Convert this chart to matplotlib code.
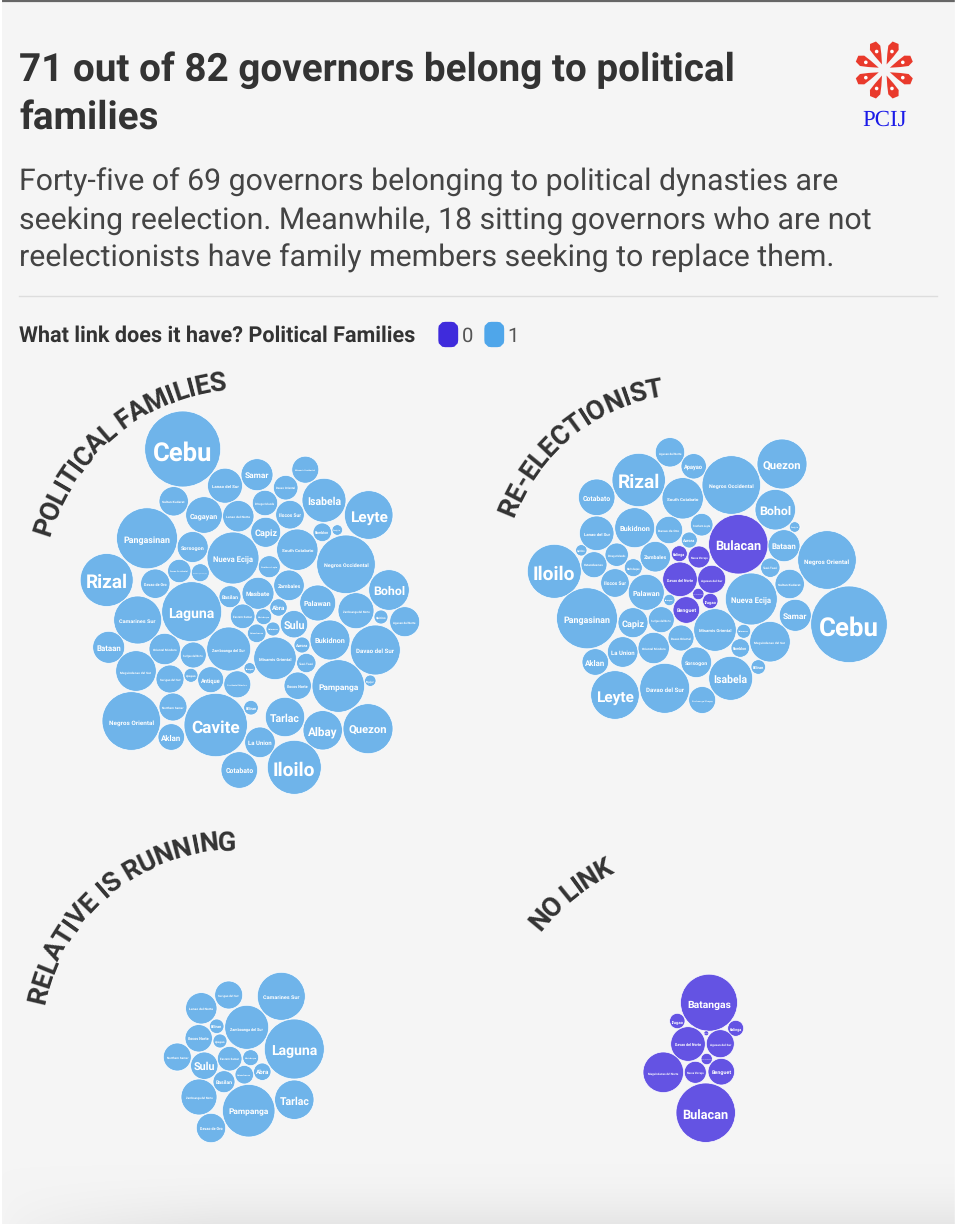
#!/usr/bin/python3
import numpy as np
import matplotlib
matplotlib.use('Agg')
import matplotlib.pyplot as plt
from matplotlib.patches import Circle, Polygon, FancyBboxPatch
from matplotlib.textpath import TextPath
from matplotlib.font_manager import FontProperties

plt.rcParams['text.hinting'] = 'none'
plt.rcParams['text.hinting_factor'] = 8

FONT = 'Roboto'
BG = '#f5f5f5'
BLUE = '#6fb4ea'
PURPLE = '#6453e3'
DARK = '#333333'

title_lines = ['71 out of 82 governors belong to political', 'families']
subtitle_lines = ['Forty-five of 69 governors belonging to political dynasties are',
                  'seeking reelection. Meanwhile, 18 sitting governors who are not',
                  'reelectionists have family members seeking to replace them.']
legend_title = 'What link does it have? Political Families'
legend_labels = ['0', '1']
panel_titles = ['POLITICAL FAMILIES', 'RE-ELECTIONIST', 'RELATIVE IS RUNNING', 'NO LINK']

# provinces with no link to a running relative, they get the second colour
no_link_names = ['Batangas', 'Ifugao', 'Kalinga', 'Davao del Norte', 'Agusan del Sur', 'Batanes', 'Mountain Province',
                 'Maguindanao del Norte', 'Nueva Vizcaya', 'Benguet', 'Bulacan']

political_names = ['Cebu', 'Lanao del Sur', 'Sultan Kudarat', 'Cagayan', 'Lanao del Norte', 'Pangasinan', 'Sorsogon',
                   'Nueva Ecija', 'Rizal', 'Davao de Oro', 'Davao Occidental', 'Zamboanga Sibugay', 'Basilan', 'Laguna',
                   'Camarines Sur', 'Bataan', 'Oriental Mindoro', 'Surigao del Norte', 'Zamboanga del Sur',
                   'Maguindanao del Sur', 'Surigao del Sur', 'Apayao', 'Antique', 'Occidental Mindoro', 'Sarangani',
                   'Biliran', 'Negros Oriental', 'Northern Samar', 'Aklan', 'Cavite', 'Cotabato', 'La Union', 'Tarlac',
                   'Albay', 'Quezon', 'Iloilo', 'Pampanga', 'Davao del Sur', 'Bukidnon', 'Misamis Oriental',
                   'Ilocos Norte', 'Tawi-Tawi', 'Aurora', 'Sulu', 'Palawan', 'Abra', 'Masbate', 'Zambales',
                   'Eastern Samar', 'Marinduque', 'Catanduanes', 'Guimaras', 'Bohol', 'Zamboanga del Norte', 'Quirino',
                   'Agusan del Norte', 'Siquijor', 'Negros Occidental', 'South Cotabato', 'Romblon', 'Camiguin', 'Leyte',
                   'Isabela', 'Capiz', 'Ilocos Sur', 'Samar', 'Davao Oriental', 'Dinagat Islands', 'Misamis Occidental',
                   'Southern Leyte']
political_x = [182.7, 225, 173.7, 204, 238.3, 147, 192.7, 233, 106.7, 155.3, 179.3, 200.3, 230, 191.7, 137.7, 108.7,
               164.7, 193.3, 228.7, 136, 170, 191, 210.7, 237.3, 249.7, 251, 131.3, 173, 171.3, 215.7, 239.3, 260, 285,
               322.7, 368, 294.3, 338.3, 375.3, 330, 275, 297.7, 306.3, 302, 294, 317.7, 278.5, 258, 289, 242.7, 263.7,
               256.7, 273, 389, 356, 381, 404.7, 370.3, 346, 297.3, 322.3, 337.3, 368.7, 324, 265.7, 290, 257, 285.7,
               265, 305.3, 269.3]
political_y = [449, 485.7, 501.3, 515, 516.2, 538.3, 547, 558, 580, 583.7, 571, 572.7, 596.7, 611.7, 620, 647.3, 649,
               655, 649, 671, 679, 675.3, 679.7, 684.3, 668.3, 707.7, 721, 707, 737, 725, 770, 742.3, 717, 730.3, 728.7,
               767.3, 686, 650, 640, 658.3, 685.7, 663, 645, 624.2, 603, 607.5, 593.3, 585.3, 616.3, 616.7, 633.3, 629,
               590, 610.7, 617, 621.7, 680.7, 564.3, 549.7, 532.3, 530, 515, 500.3, 532.3, 514.7, 474.7, 487.7, 503,
               469.7, 566.7]
political_r = [38, 17.5, 14.7, 18.3, 15.7, 30.5, 15.5, 26, 26.5, 14.7, 11.7, 9, 11, 30, 24, 16, 15.7, 13, 22, 20.3, 14,
               7, 13, 13.5, 5.7, 7.3, 29.3, 14, 13.3, 31.7, 18.3, 15.3, 19.7, 19.7, 25, 27, 26.3, 25, 20, 21.3, 13.7, 9.7,
               8, 13.7, 18, 8.7, 16, 15.3, 12.3, 8, 9.3, 7, 20.3, 18, 7, 15, 5.7, 29.3, 20.7, 9.3, 5.3, 24.3, 22, 15,
               14.3, 16, 12.3, 12.7, 13.5, 11]

reelect_names = ['Agusan del Norte', 'Apayao', 'Rizal', 'Cotabato', 'South Cotabato', 'Lanao del Sur', 'Bukidnon',
                 'Davao de Oro', 'Southern Leyte', 'Aurora', 'Zambales', 'Quirino', 'Iloilo', 'Catanduanes',
                 'Dinagat Islands', 'Marinduque', 'Ilocos Sur', 'Palawan', 'Sarangani', 'Pangasinan', 'Capiz',
                 'Surigao del Norte', 'Davao Oriental', 'La Union', 'Oriental Mindoro', 'Aklan', 'Sorsogon', 'Leyte',
                 'Davao del Sur', 'Zamboanga Sibugay', 'Kalinga', 'Nueva Vizcaya', 'Davao del Norte', 'Benguet',
                 'Mountain Province', 'Agusan del Sur', 'Ifugao', 'Bulacan', 'Negros Occidental', 'Quezon', 'Bohol',
                 'Camiguin', 'Bataan', 'Negros Oriental', 'Tawi-Tawi', 'Sultan Kudarat', 'Nueva Ecija', 'Samar', 'Cebu',
                 'Misamis Oriental', 'Guimaras', 'Maguindanao del Sur', 'Romblon', 'Biliran', 'Isabela']
reelect_x = [670, 693.7, 638.7, 596.7, 682.7, 596.7, 634.7, 669, 701.7, 689.3, 655.3, 581.3, 554.3, 594, 616.7, 633.3,
             615, 646.3, 669.3, 587, 633, 661.3, 681, 622.7, 653.7, 595.3, 696.3, 615, 664.7, 702.2, 679.3, 699, 680,
             686.3, 698.3, 711.7, 710.3, 738.3, 731.3, 782, 775.3, 794.7, 784, 827, 770.3, 789.7, 751.3, 795.3, 849, 715,
             743.7, 770, 740.3, 758.3, 730.7]
reelect_y = [452.3, 466.3, 480, 497.3, 498.3, 533.3, 527.7, 530, 524.7, 540, 556.7, 550.3, 571.3, 564.7, 554.7, 567.7,
             583, 592.3, 600, 618.3, 622.7, 619.7, 638, 652, 648, 662, 662.3, 695, 688.3, 700, 553.7, 557, 579.3, 610,
             594, 579.3, 601, 544.3, 485, 464, 509.7, 527, 545.7, 560, 567.7, 584, 599, 615.3, 624.3, 630, 631.3, 641.7,
             648, 667, 678.3]
reelect_r = [14.7, 12.7, 26.7, 18.3, 20.7, 17.3, 20, 13.7, 11.3, 8, 15.3, 5.7, 27, 13, 11.7, 9, 14.3, 18, 5.7, 30.5, 15,
             13, 13, 15.3, 15.7, 13.3, 15.3, 24.3, 25, 13.5, 8, 11, 17.3, 13.3, 5.7, 14, 7.7, 29.7, 29.3, 25, 20.3, 5.3,
             16, 29.3, 9.7, 14.7, 26, 16, 38.3, 21.3, 7, 20.3, 9.3, 7.3, 22]

relative_names = ['Camarines Sur', 'Surigao del Sur', 'Lanao del Norte', 'Zamboanga del Sur', 'Biliran', 'Ilocos Norte',
                  'Apayao', 'Laguna', 'Northern Samar', 'Sulu', 'Eastern Samar', 'Marinduque', 'Abra', 'Catanduanes',
                  'Basilan', 'Tarlac', 'Zamboanga del Norte', 'Pampanga', 'Davao de Oro']
relative_x = [281.3, 228.7, 201.3, 246.7, 216.7, 198.7, 220, 294.3, 177.3, 204.3, 229.7, 250.7, 262.3, 244.3, 224, 294.3,
              199, 248.7, 211]
relative_y = [996.3, 995, 1008.3, 1027.3, 1026.3, 1038.3, 1041, 1049, 1057, 1065.7, 1058.7, 1057.7, 1071.7, 1074.7,
              1081.7, 1099.7, 1097, 1110.7, 1128]
relative_r = [24, 14, 15.7, 22, 7.3, 13.7, 7, 30, 14, 13.7, 12.3, 8, 8.7, 9.3, 11, 19.7, 18, 26.3, 14.7]

nolink_names = ['Batangas', 'Ifugao', 'Kalinga', 'Davao del Norte', 'Agusan del Sur', 'Batanes', 'Mountain Province',
                'Maguindanao del Norte', 'Nueva Vizcaya', 'Benguet', 'Bulacan']
nolink_x = [709, 677.3, 735.7, 688, 720.3, 706.3, 706.7, 663.3, 695.3, 721.3, 705.7]
nolink_y = [1002.7, 1021, 1028.3, 1044, 1043.7, 1033.3, 1059, 1072.3, 1072.3, 1071.7, 1112.7]
nolink_r = [28.5, 7.7, 8, 17.3, 14, 2.5, 5.7, 20.3, 11, 13.3, 29.7]

LABEL_FP = FontProperties(family=FONT, weight='bold')
CURVE_FP = FontProperties(family=FONT, weight='bold')


def draw_bubbles(ax, names, xs, ys, rs):
    for name, x, y, r in zip(names, xs, ys, rs):
        color = PURPLE if name in no_link_names else BLUE
        ax.add_patch(Circle((x, y), r, fc=color, ec='#ffffff', lw=0.5, zorder=3))
        # label is always about 1.5 radius wide, like the original
        unit = TextPath((0, 0), name, size=1, prop=LABEL_FP).get_extents().width
        size_px = 1.5 * r / unit
        ax.text(x, y + 0.04 * r, name, color='white', family=FONT, weight='bold', fontsize=size_px * 0.72,
                ha='center', va='center_baseline', zorder=4)


# letters one by one along the circle through three baseline points
def curved_text(ax, text, p0, p1, p2, size_px):
    (ax0, ay0), (bx, by), (cx0, cy0) = p0, p1, p2
    d = 2 * (ax0 * (by - cy0) + bx * (cy0 - ay0) + cx0 * (ay0 - by))
    ux = ((ax0**2 + ay0**2) * (by - cy0) + (bx**2 + by**2) * (cy0 - ay0) + (cx0**2 + cy0**2) * (ay0 - by)) / d
    uy = ((ax0**2 + ay0**2) * (cx0 - bx) + (bx**2 + by**2) * (ax0 - cx0) + (cx0**2 + cy0**2) * (bx - ax0)) / d
    radius = np.hypot(ax0 - ux, ay0 - uy)
    a_start = np.arctan2(ay0 - uy, ax0 - ux)
    a_end = np.arctan2(cy0 - uy, cx0 - ux)
    if a_end < a_start:
        a_end += 2 * np.pi
    # advance of each letter from the text path prefix widths
    prefix = [TextPath((0, 0), text[:i] + '|', size=size_px, prop=CURVE_FP).get_extents().x1 for i in range(len(text) + 1)]
    total = prefix[-1] - prefix[0]
    for i, ch in enumerate(text):
        mid = (prefix[i] + prefix[i + 1]) / 2 - prefix[0]
        ang = a_start + (a_end - a_start) * mid / total
        x = ux + radius * np.cos(ang)
        y = uy + radius * np.sin(ang)
        rot = -np.degrees(ang) - 90 + 180 + 180
        ax.text(x, y, ch, color=DARK, family=FONT, weight='bold', fontsize=size_px * 0.72, rotation=rot % 360,
                rotation_mode='anchor', ha='center', va='baseline', zorder=5)


def draw_logo(ax, cx, cy):
    nib = np.array([[6, 0], [16, -3.4], [24, -5.6], [29.5, -3.2], [29.5, 3.2], [24, 5.6], [16, 3.4]])
    for k in range(8):
        ang = np.radians(22.5 + 45 * k)
        rot = np.array([[np.cos(ang), -np.sin(ang)], [np.sin(ang), np.cos(ang)]])
        ax.add_patch(Polygon(nib @ rot.T + [cx, cy], fc='#e93a2c', ec='none', zorder=3))
        hole = np.array([20, 0]) @ rot.T + [cx, cy]
        ax.add_patch(Circle(hole, 1.8, fc='#ffffff', ec='none', zorder=4))
    ax.text(cx, 120.5, 'PCIJ', color='#1a1ae8', family='Liberation Serif', fontsize=16.5, ha='center', va='center')


fig = plt.figure(figsize=(9.56, 12.24), dpi=100)
ax = fig.add_axes([0, 0, 1, 1])
ax.set_xlim(0, 956)
ax.set_ylim(1224, 0)
ax.axis('off')
fig.patch.set_facecolor(BG)

# soft shadow at the bottom edge of the card
yy, xx = np.mgrid[1150:1224, 0:956]
shade = np.clip((yy - 1160) / 64, 0, 1) ** 2 * np.clip(xx / 220, 0, 1) ** 0.6
bottom = np.ones(shade.shape + (3,)) * (0.961 - 0.06 * shade[..., None])
ax.imshow(bottom, extent=(0, 956, 1224, 1150), aspect='auto', zorder=0)
ax.set_xlim(0, 956)
ax.set_ylim(1224, 0)

ax.plot([0, 956], [0.5, 0.5], color='#666666', lw=1.6, zorder=6)
ax.plot([1, 1], [0, 1224], color='#ffffff', lw=1.5, zorder=6)
ax.plot([955, 955], [0, 1224], color='#ffffff', lw=1, zorder=6)

for line, y in zip(title_lines, [81, 130]):
    ax.text(19, y, line, color=DARK, family=FONT, weight='bold', fontsize=27.8, va='baseline')
for line, y in zip(subtitle_lines, [191, 229, 267]):
    ax.text(19, y, line, color='#444444', family=FONT, fontsize=21.8, va='baseline')
ax.plot([19, 937], [296, 296], color='#dddddd', lw=1)

ax.text(19, 342, legend_title, color=DARK, family=FONT, weight='bold', fontsize=15.6, va='baseline')
for lab, x, col in zip(legend_labels, [439.5, 485.5], ['#3f2bdc', '#4fa6ea']):
    ax.add_patch(FancyBboxPatch((x + 3, 326), 11.5, 17, boxstyle='round,pad=0,rounding_size=3', mutation_aspect=1,
                                fc=col, ec=col, lw=6))
    ax.text(x + 22, 342, lab, color='#555555', family=FONT, fontsize=14.6, va='baseline')

draw_logo(ax, 884.3, 70)

draw_bubbles(ax, political_names, political_x, political_y, political_r)
draw_bubbles(ax, reelect_names, reelect_x, reelect_y, reelect_r)
draw_bubbles(ax, relative_names, relative_x, relative_y, relative_r)
draw_bubbles(ax, nolink_names, nolink_x, nolink_y, nolink_r)

curved_text(ax, panel_titles[0], (50, 537), (113, 438), (226, 390), 27)
curved_text(ax, panel_titles[1], (514, 518), (570, 438), (664, 396), 27)
curved_text(ax, panel_titles[2], (45, 1005), (114, 891), (236, 850), 27)
curved_text(ax, panel_titles[3], (541, 932), (574, 898), (614, 873), 27)

fig.savefig('out.png', dpi=100, facecolor=BG)
